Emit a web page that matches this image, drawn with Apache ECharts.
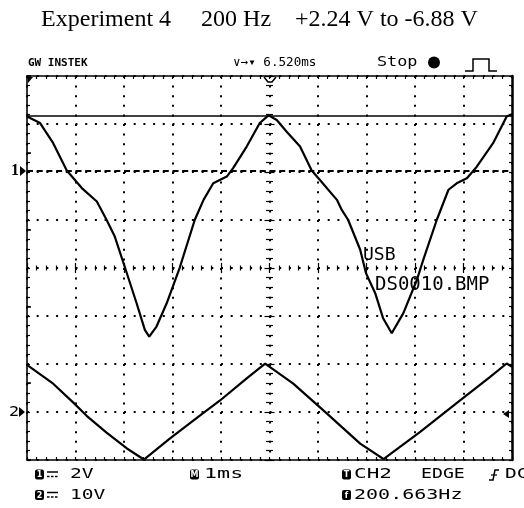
<!DOCTYPE html>
<html><head><meta charset="utf-8">
<script src="https://cdn.jsdelivr.net/npm/echarts@6/dist/echarts.min.js"></script>
<style>html,body{margin:0;padding:0;background:#fff}#c{width:524px;height:508px}</style>
</head><body><div id="c"></div>
<script>
// ---- data ----
const titleText = 'Experiment 4     200 Hz    +2.24 V to -6.88 V';
const ch1Time = [0, 0.27, 0.54, 0.82, 1.13, 1.44, 1.64, 1.81, 2.02, 2.26, 2.43, 2.52, 2.67, 2.88, 3.15, 3.46, 3.64, 3.84, 4.12, 4.25, 4.53, 4.80, 4.98, 5.15, 5.35, 5.63, 5.87, 6.04, 6.39, 6.49, 6.62, 6.87, 6.99, 7.18, 7.34, 7.52, 7.76, 8.04, 8.17, 8.45, 8.69, 8.86, 9.07, 9.27, 9.61, 9.89, 10];
const ch1Volts = [2.25, 1.98, 1.14, 0, -0.73, -1.29, -2.05, -2.75, -4.04, -5.53, -6.64, -6.92, -6.5, -5.53, -4.04, -2.05, -1.22, -0.53, -0.25, 0.1, 1.0, 1.98, 2.3, 2.11, 1.63, 1.0, 0, -0.39, -1.22, -1.64, -2.05, -3.3, -4.28, -5.11, -6.14, -6.78, -5.94, -4.55, -3.72, -2.05, -0.8, -0.53, -0.32, 0.15, 1.14, 2.25, 2.35];
const ch2Time = [0, 0.54, 0.95, 1.23, 1.64, 2.06, 2.41, 2.95, 3.57, 3.98, 4.53, 4.91, 5.49, 6.18, 6.87, 7.35, 8.10, 8.93, 9.55, 9.89, 10];
const ch2Volts = [9.8, 5.9, 2.0, -0.8, -4.3, -7.6, -9.9, -5.5, -0.7, 2.4, 7.0, 10.1, 5.9, -0.3, -6.6, -9.8, -4.2, 2.4, 7.3, 10.1, 9.4];
const cursorLevels = [2.28, 0];           // ch1 volts: solid cursor, dashed cursor
const ch1Range = [-12.06, 3.94];           // 2 V/div, 8 div
const ch2Range = [-10, 70];                // 10 V/div, 8 div
const timeRange = [0, 10];                 // 1 ms/div, 10 div
const headerLogo = 'GW INSTEK';
const headerDelay = '∨→▾ 6.520ms';
const headerState = 'Stop';
const usbText = 'USB';
const fileText = 'DS0010.BMP';
const ch1ScaleText = '2V';
const ch2ScaleText = '10V';
const timeScaleText = '1ms';
const trigSource = 'CH2';
const trigType = 'EDGE';
const trigCoupling = 'DC';
const freqText = '200.663Hz';

// ---- layout ----
const G = {left: 27, top: 76, width: 485, height: 384};
function grid() { return Object.assign({outerBoundsMode: 'none', containLabel: false, show: false}, G); }
const BLK = '#000';
function frameAxis(pos, gi, min, max, split, dash) {
  return {type: 'value', gridIndex: gi, position: pos, min, max, interval: 1,
    axisLine: {show: true, onZero: false, lineStyle: {color: BLK, width: pos === 'right' ? 2.5 : 1.6}},
    axisTick: {show: true, inside: true, length: 3, lineStyle: {color: BLK, width: 1.2}},
    minorTick: {show: true, splitNumber: 5, length: 3, lineStyle: {color: BLK, width: 1.2}},
    axisLabel: {show: false},
    splitLine: {show: split, lineStyle: {color: BLK, width: 2, type: dash}},
    minorSplitLine: {show: false}};
}
function crossAxis(pos, gi, min, max, onZeroIdx, majorLen, minorLen) {
  return {type: 'value', gridIndex: gi, position: pos, min, max, interval: 1,
    axisLine: {show: true, onZero: true, onZeroAxisIndex: onZeroIdx, lineStyle: {opacity: 0}},
    axisTick: {show: true, inside: true, length: majorLen, lineStyle: {color: BLK, width: 1.2}},
    minorTick: {show: true, splitNumber: 5, length: minorLen, lineStyle: {color: BLK, width: 1.2}},
    axisLabel: {show: false}, splitLine: {show: false}};
}
function hidden(gi, min, max, pos) {
  return {type: 'value', gridIndex: gi, min, max, position: pos, show: false};
}

function T(x, y, text, font, o) {
  o = o || {};
  return {type: 'text', x, y, scaleX: o.sx || 1, scaleY: o.sy || 1, silent: true, z: 100,
    style: {text, font, fill: o.fill || BLK, align: o.align || 'left', verticalAlign: 'middle'}};
}
function icon(x, y, ch) {
  return [{type: 'rect', silent: true, z: 100, shape: {x, y: y - 5, width: 9, height: 10, r: 2}, style: {fill: BLK}},
    T(x + 4.5, y + 0.5, ch, 'bold 8px "DejaVu Sans"', {fill: '#fff', align: 'center'})];
}
function pl(points, w) { return {type: 'polyline', silent: true, z: 100, shape: {points}, style: {stroke: BLK, lineWidth: w || 1.5, fill: null}}; }
function pg(points) { return {type: 'polygon', silent: true, z: 100, shape: {points}, style: {fill: BLK}}; }
function ln(x1, y1, x2, y2, w, dash) { return {type: 'line', silent: true, z: 100, shape: {x1, y1, x2, y2}, style: {stroke: BLK, lineWidth: w || 1.5, lineDash: dash || null}}; }

const mono = '"DejaVu Sans Mono"';
const botFont = '14px ' + mono, botSX = 1.4;
const r1 = 474.5, r2 = 495;
const graphics = [].concat(
  [T(259.5, 19.5, titleText, '24px "Liberation Serif"', {align: 'center'}),
   T(28, 63, headerLogo, 'bold 10px ' + mono, {sx: 1.1}),
   T(233, 63, headerDelay, '12px ' + mono, {sx: 1.05}),
   T(377, 62, headerState, '14px ' + mono, {sx: 1.2}),
   {type: 'circle', silent: true, z: 100, shape: {cx: 434, cy: 62.5, r: 6}, style: {fill: BLK}},
   pl([[465, 71], [473, 71], [473, 59], [489, 59], [489, 71], [497, 71]], 1.5),
   // screen markers
   pg([[28, 77], [33, 77], [28, 83]]),
   pl([[264, 77], [268, 82], [272, 82], [276, 77]], 1.5),
   pg([[503, 414], [509, 410], [509, 418]]),
   T(15, 171, '1', 'bold 16px "Liberation Serif"', {align: 'center'}),
   pg([[20, 166], [26, 171], [20, 176]]),
   T(14, 412, '2', '14px ' + mono, {align: 'center', sx: 1.2}),
   pg([[19, 407], [25, 412], [19, 417]]),
   T(363, 255, usbText, '18px ' + mono),
   T(375, 285, fileText, '19px ' + mono),
   // bottom status
   ln(47, 472, 58, 472, 1.5), ln(47, 476.5, 58, 476.5, 1.5, [2.5, 1.5]),
   ln(47, 492.5, 58, 492.5, 1.5), ln(47, 497, 58, 497, 1.5, [2.5, 1.5]),
   T(70, r1, ch1ScaleText, botFont, {sx: botSX}),
   T(70, r2, ch2ScaleText, botFont, {sx: botSX}),
   T(204, r1, timeScaleText, botFont, {sx: 1.55}),
   T(354, r1, trigSource, botFont, {sx: 1.5}),
   T(421, r1, trigType, botFont, {sx: 1.3}),
   pl([[489, 480], [493, 480], [495, 470], [499, 470]], 1.5), ln(491, 475, 497, 475, 1.2),
   T(505, r1, trigCoupling, botFont, {sx: botSX}),
   T(354, r2, freqText, botFont, {sx: 1.43})],
  icon(35, r1, '1'), icon(35, r2, '2'), icon(190, r1, 'M'), icon(342, r1, 'T'), icon(342, r2, 'f')
);

const option = {
  animation: false,
  backgroundColor: '#fff',
  grid: [grid(), grid(), grid(), grid()],
  xAxis: [
    frameAxis('bottom', 0, timeRange[0], timeRange[1], true, [2, 7.6]),
    frameAxis('top', 0, timeRange[0], timeRange[1], false),
    crossAxis('bottom', 1, -5, 5, 2, 5, 2.5),
    crossAxis('top', 1, -5, 5, 2, 5, 2.5),
    hidden(2, timeRange[0], timeRange[1], 'bottom'),
    hidden(3, 0, 1, 'bottom')
  ],
  yAxis: [
    frameAxis('left', 0, -4, 4, true, [2, 7.7]),
    frameAxis('right', 0, -4, 4, false),
    crossAxis('left', 1, -4, 4, 2, 5, 3.5),
    crossAxis('right', 1, -4, 4, 2, 5, 3.5),
    hidden(2, ch1Range[0], ch1Range[1], 'left'),
    hidden(2, ch2Range[0], ch2Range[1], 'right'),
    {type: 'value', gridIndex: 3, position: 'right', offset: 5, min: 0, max: 5, interval: 1,
     axisLine: {show: false}, axisTick: {show: true, inside: false, length: 4, lineStyle: {color: BLK, width: 1.5}},
     axisLabel: {show: false}, splitLine: {show: false}}
  ],
  series: [
    {type: 'line', xAxisIndex: 4, yAxisIndex: 4, z: 5, symbol: 'none', silent: true,
     data: ch1Time.map((t, i) => [t, ch1Volts[i]]),
     lineStyle: {color: BLK, width: 2.2},
     markLine: {silent: true, symbol: 'none', animation: false, label: {show: false},
       data: [{yAxis: cursorLevels[0], lineStyle: {type: 'solid', width: 1.5, color: BLK}},
              {yAxis: cursorLevels[1], lineStyle: {type: [6, 3.7], width: 2, color: BLK}}]}},
    {type: 'line', xAxisIndex: 4, yAxisIndex: 5, z: 5, symbol: 'none', silent: true,
     data: ch2Time.map((t, i) => [t, ch2Volts[i]]),
     lineStyle: {color: BLK, width: 2.2}}
  ],
  graphic: graphics
};
const chart = echarts.init(document.getElementById('c'));
chart.setOption(option);
</script>
</body></html>
